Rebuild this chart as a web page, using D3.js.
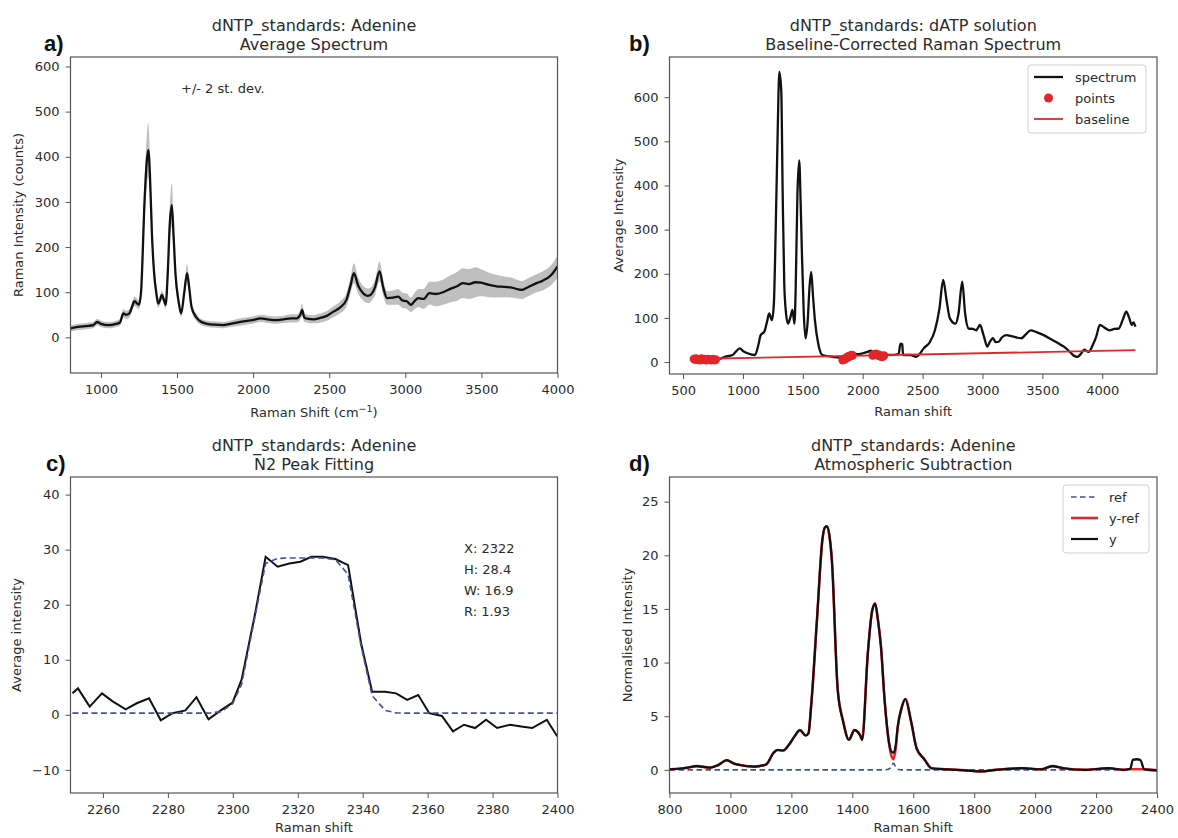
<!DOCTYPE html>
<html><head><meta charset="utf-8">
<script src="https://cdn.jsdelivr.net/npm/d3@7"></script>
<style>body{margin:0;background:#fff} svg text{font-family:"DejaVu Sans",sans-serif}</style>
</head><body><svg id="c" width="1178" height="838"></svg>
<script>
// ---------- Panel a: average spectrum ----------
const aShift = [800,850,900,950,975,1000,1050,1100,1125,1147,1165,1184,1205,1220,1235,1249,1263,1287,1300,1311,1322,1335,1350,1364,1376,1388,1400,1412,1425,1440,1452,1466,1478,1490,1510,1527,1547,1566,1580,1595,1625,1655,1700,1750,1801,1850,1900,1950,1995,2050,2092,2150,2200,2250,2286,2310,2322,2335,2347,2400,2431,2480,2528,2570,2613,2640,2662,2690,2722,2750,2771,2800,2831,2855,2880,2920,2953,2980,3010,3037,3060,3086,3120,3159,3200,3256,3300,3340,3377,3420,3460,3498,3550,3600,3650,3700,3765,3800,3862,3900,3959,4000];
const aMean = [20,23,25,27,34,30,27,30,33,53,50,52,68,80,76,72,98,305,385,415,360,230,140,98,75,82,94,85,72,150,250,293,220,140,80,53,98,142,110,68,45,35,30,28,27,30,33,36,38,42,40,38,40,42,42,50,61,45,42,40,42,47,57,66,83,115,142,115,98,92,94,110,146,110,87,88,90,82,80,72,80,87,85,98,96,101,108,113,120,118,122,121,116,113,112,110,105,110,120,125,138,157];
const aSd2 = [7,7,7,7,7,7,7,7,8,9,9,9,10,10,10,10,15,45,55,60,50,30,18,12,10,10,10,10,10,20,35,48,30,18,10,8,12,20,14,9,8,7,7,7,7,7,8,8,8,8,8,8,8,9,9,11,14,10,9,9,10,11,12,13,15,18,22,18,16,16,16,17,22,18,15,16,17,17,17,16,18,20,22,25,27,28,30,32,33,33,33,30,27,25,23,22,20,20,20,21,22,25];
const aXTicks = [1000,1500,2000,2500,3000,3500,4000];
const aYTicks = [0,100,200,300,400,500,600];

// ---------- Panel b: baseline-corrected spectrum ----------
const bShift = [570,662,757,788,850,913,975,1000,1038,1101,1130,1148,1179,1200,1219,1242,1258,1273,1290,1304,1320,1332,1345,1360,1376,1395,1414,1430,1440,1455,1470,1482,1492,1508,1523,1540,1556,1570,1585,1601,1630,1664,1750,1852,1880,1914,1950,2000,2040,2070,2102,2150,2228,2300,2315,2330,2337,2400,2447,2480,2509,2560,2603,2640,2672,2700,2728,2775,2800,2831,2855,2885,2920,2947,2979,3010,3041,3060,3088,3110,3135,3160,3198,3250,3323,3360,3402,3450,3511,3570,3636,3680,3730,3760,3792,3820,3850,3886,3920,3949,3980,4020,4059,4100,4137,4170,4200,4225,4246,4260,4277];
const bInt = [8,6,6,6,12,16,31,25,20,16,40,61,69,90,110,95,130,291,520,657,615,380,178,110,87,100,118,87,160,380,457,360,253,110,54,90,170,204,150,95,40,16,12,8,5,20,18,20,23,26,16,18,16,18,42,40,16,16,12,20,31,45,72,120,186,140,99,87,110,182,110,76,75,72,84,60,35,45,54,45,46,55,61,58,54,62,72,68,61,52,42,35,23,15,12,18,28,23,38,57,84,78,72,75,76,95,114,100,84,90,80];
const bPointShift = [590,598,606,614,622,630,638,646,654,662,670,678,686,694,702,710,718,726,734,742,750,758,766,774,
  1832,1838,1844,1850,1856,1862,1868,1874,1880,1886,1892,1898,1904,1910,1916,
  2082,2088,2094,2100,2106,2112,2118,2124,2130,2136,2142,2148,2154,2160,2166,2172,2178];
const bPointInt = [7,6,8,5,7,6,4,6,8,5,6,7,5,4,6,7,5,6,4,5,7,5,4,6,
  4,6,5,8,7,10,9,12,11,14,13,15,14,16,15,
  15,17,16,18,17,19,16,17,15,14,16,13,12,14,12,13,15];
const bBaseShift = [570,4277];
const bBaseInt = [7,27];
const bXTicks = [500,1000,1500,2000,2500,3000,3500,4000];
const bYTicks = [0,100,200,300,400,500,600];

// ---------- Panel c: N2 peak fitting ----------
const cShift = [2250.6,2252.3,2255.9,2259.7,2263.1,2267.0,2270.4,2274.2,2277.8,2281.4,2285.4,2288.8,2292.5,2296.5,2299.9,2302.7,2306.7,2310.1,2313.8,2317.4,2320.8,2324.2,2327.6,2331.6,2335.5,2339.5,2342.9,2346.9,2350.3,2353.7,2357.1,2360.5,2364.4,2367.8,2371.2,2374.6,2378.0,2381.4,2385.4,2388.8,2392.2,2396.7,2399.9];
const cInt = [3.9,4.8,1.5,3.9,2.4,1.0,2.1,3.0,-1.0,0.3,0.8,3.2,-0.8,0.9,2.2,6.4,17.9,28.7,26.9,27.5,27.8,28.7,28.7,28.3,27.2,13.0,4.2,4.2,3.9,2.7,3.6,0.3,-0.2,-3.0,-1.8,-2.4,-0.9,-2.4,-1.8,-2.1,-2.4,-0.9,-3.9];
const cFit = [0.3,0.3,0.3,0.3,0.3,0.3,0.3,0.3,0.3,0.3,0.3,0.3,0.3,0.6,2.0,5.5,17.5,27.5,28.4,28.5,28.5,28.5,28.5,28.2,25.5,12.5,3.5,0.8,0.35,0.3,0.3,0.3,0.3,0.3,0.3,0.3,0.3,0.3,0.3,0.3,0.3,0.3,0.3];
const cStats = ["X: 2322","H: 28.4","W: 16.9","R: 1.93"];
const cXTicks = [2260,2280,2300,2320,2340,2360,2380,2400];
const cYTicks = [-10,0,10,20,30,40];

// ---------- Panel d: atmospheric subtraction ----------
const dShift = [800,830,858,889,932,960,988,1010,1031,1080,1117,1142,1154,1173,1191,1210,1228,1247,1256,1265,1284,1302,1310,1317,1325,1333,1352,1370,1389,1407,1426,1432,1451,1465,1475,1484,1494,1506,1522,1528,1535,1542,1549,1562,1574,1593,1611,1636,1660,1710,1772,1821,1870,1957,2019,2056,2093,2167,2241,2290,2312,2321,2334,2346,2358,2400];
const dY = [0.05,0.1,0.2,0.35,0.2,0.45,0.9,0.6,0.45,0.3,0.5,1.6,1.85,1.8,2.3,3.1,3.7,3.2,3.4,6.0,14.0,21.5,22.6,22.7,21.8,19.5,7.5,4.5,2.8,3.7,3.2,2.8,10.9,14.8,15.5,14.0,11.5,6.5,2.3,1.7,1.6,2.2,4.0,5.8,6.6,4.5,2.0,1.0,0.15,0.05,-0.05,-0.15,0,0.15,0.05,0.35,0.15,0,0.15,0,0.1,0.95,1.0,0.9,0.05,-0.05];
const dRef = [0,0,0,0,0,0,0,0,0,0,0,0,0,0,0,0,0,0,0,0,0,0,0,0,0,0,0,0,0,0,0,0,0,0,0,0,0,0,0.1,0.35,0.6,0.3,0.05,0,0,0,0,0,0,0,0,0,0,0,0,0,0,0,0,0,0.05,0.9,0.95,0.85,0,0];
const dYRef = [0.05,0.1,0.2,0.35,0.2,0.45,0.9,0.6,0.45,0.3,0.5,1.6,1.85,1.8,2.3,3.1,3.7,3.2,3.4,6.0,14.0,21.5,22.6,22.7,21.8,19.5,7.5,4.5,2.8,3.7,3.2,2.8,10.9,14.8,15.5,14.0,11.5,6.5,2.2,1.35,1.0,1.9,3.95,5.8,6.6,4.5,2.0,1.0,0.15,0.05,-0.05,-0.15,0,0.15,0.05,0.35,0.15,0,0.15,0,0.05,0.05,0.05,0.05,0.05,-0.05];
const dXTicks = [800,1000,1200,1400,1600,1800,2000,2200,2400];
const dYTicks = [0,5,10,15,20,25];

// ---------- drawing ----------
const svg = d3.select("#c");
const TXT = "#2b2b2b", SPINE = "#555", RED = "#e3262b", NAVY = "#44509a";
const fmt = d => d < 0 ? "\u2212" + Math.abs(d) : String(d);

function panel(o) {
  const x = d3.scaleLinear().domain(o.xd).range([o.l, o.r]);
  const y = d3.scaleLinear().domain(o.yd).range([o.b, o.t]);
  const id = "clip" + o.key;
  svg.append("clipPath").attr("id", id).append("rect")
    .attr("x", o.l).attr("y", o.t).attr("width", o.r - o.l).attr("height", o.b - o.t);
  const plot = svg.append("g").attr("clip-path", `url(#${id})`);
  const xa = svg.append("g").attr("transform", `translate(0,${o.b})`)
    .call(d3.axisBottom(x).tickValues(o.xt).tickSize(5).tickPadding(7).tickFormat(fmt));
  const ya = svg.append("g").attr("transform", `translate(${o.l},0)`)
    .call(d3.axisLeft(y).tickValues(o.yt).tickSize(5).tickPadding(6).tickFormat(fmt));
  [xa, ya].forEach(a => {
    a.select(".domain").remove();
    a.selectAll("line").attr("stroke", SPINE).attr("stroke-width", 1);
    a.selectAll("text").attr("fill", TXT).style("font-size", "13px").style("font-family", "DejaVu Sans");
  });
  svg.append("rect").attr("x", o.l).attr("y", o.t).attr("width", o.r - o.l).attr("height", o.b - o.t)
    .attr("fill", "none").attr("stroke", SPINE).attr("stroke-width", 1.2);
  const cx = (o.l + o.r) / 2;
  svg.append("text").attr("x", cx).attr("y", o.t - 26.5).attr("text-anchor", "middle")
    .attr("fill", TXT).style("font-size", "16px").text(o.title[0]);
  svg.append("text").attr("x", cx).attr("y", o.t - 7.5).attr("text-anchor", "middle")
    .attr("fill", TXT).style("font-size", "16px").text(o.title[1]);
  svg.append("text").attr("x", o.lx).attr("y", o.t - 6).attr("fill", "#111")
    .style("font-family", "Liberation Sans, Arial, sans-serif").style("font-weight", "bold")
    .style("font-size", "22px").text(o.letter);
  const xl = svg.append("text").attr("x", cx).attr("y", o.b + o.xly).attr("text-anchor", "middle")
    .attr("fill", TXT).style("font-size", "13px").text(o.xlab);
  if (o.xsup) {
    xl.append("tspan").attr("dy", -5).style("font-size", "9.5px").text(o.xsup);
    xl.append("tspan").attr("dy", 5).text(")");
  }
  svg.append("text").attr("transform", `translate(${o.ylx},${(o.t + o.b) / 2}) rotate(-90)`)
    .attr("text-anchor", "middle").attr("fill", TXT).style("font-size", "13px").text(o.ylab);
  return { x, y, plot };
}

// Panel a
{
  const P = panel({ key: "a", l: 70.5, r: 557.5, t: 57, b: 373, xd: [800, 4000], yd: [-79, 621],
    xt: aXTicks, yt: aYTicks, title: ["dNTP_standards: Adenine", "Average Spectrum"], letter: "a)", lx: 44,
    xlab: "Raman Shift (cm", xsup: "\u22121", xly: 44, ylab: "Raman Intensity (counts)", ylx: 23 });
  const idx = d3.range(aShift.length);
  P.plot.append("path").datum(idx).attr("fill", "#bfbfbf")
    .attr("d", d3.area().x(i => P.x(aShift[i])).y0(i => P.y(aMean[i] - aSd2[i])).y1(i => P.y(aMean[i] + aSd2[i])).curve(d3.curveMonotoneX));
  P.plot.append("path").datum(idx).attr("fill", "none").attr("stroke", "#111").attr("stroke-width", 2.3)
    .attr("d", d3.line().x(i => P.x(aShift[i])).y(i => P.y(aMean[i])).curve(d3.curveMonotoneX));
  svg.append("text").attr("x", 181).attr("y", 92.5).attr("fill", TXT).style("font-size", "13px").text("+/- 2 st. dev.");
}

// Panel b
{
  const P = panel({ key: "b", l: 669.5, r: 1157, t: 57, b: 374, xd: [387, 4457], yd: [-27, 691],
    xt: bXTicks, yt: bYTicks, title: ["dNTP_standards: dATP solution", "Baseline-Corrected Raman Spectrum"], letter: "b)", lx: 629,
    xlab: "Raman shift", xly: 42, ylab: "Average Intensity", ylx: 622.5 });
  const idx = d3.range(bShift.length);
  P.plot.append("path").datum(idx).attr("fill", "none").attr("stroke", "#111").attr("stroke-width", 2.3)
    .attr("d", d3.line().x(i => P.x(bShift[i])).y(i => P.y(bInt[i])).curve(d3.curveMonotoneX));
  P.plot.selectAll("circle").data(d3.range(bPointShift.length)).join("circle")
    .attr("cx", i => P.x(bPointShift[i])).attr("cy", i => P.y(bPointInt[i])).attr("r", 4.2).attr("fill", RED);
  P.plot.append("path").datum(d3.range(bBaseShift.length)).attr("fill", "none").attr("stroke", RED).attr("stroke-width", 1.8)
    .attr("d", d3.line().x(i => P.x(bBaseShift[i])).y(i => P.y(bBaseInt[i])));
  // legend
  const L = svg.append("g");
  L.append("rect").attr("x", 1028).attr("y", 65).attr("width", 118).attr("height", 68).attr("rx", 3)
    .attr("fill", "#fff").attr("stroke", "#d0d0d0");
  L.append("line").attr("x1", 1034).attr("x2", 1063).attr("y1", 77).attr("y2", 77).attr("stroke", "#111").attr("stroke-width", 2.3);
  L.append("circle").attr("cx", 1048.5).attr("cy", 98).attr("r", 4.5).attr("fill", RED);
  L.append("line").attr("x1", 1034).attr("x2", 1063).attr("y1", 119).attr("y2", 119).attr("stroke", RED).attr("stroke-width", 1.8);
  ["spectrum", "points", "baseline"].forEach((t, k) =>
    L.append("text").attr("x", 1075).attr("y", 81.5 + 21 * k).attr("fill", TXT).style("font-size", "13px").text(t));
}

// Panel c
{
  const P = panel({ key: "c", l: 70.5, r: 557.5, t: 477, b: 793, xd: [2250, 2400], yd: [-14.2, 43.2],
    xt: cXTicks, yt: cYTicks, title: ["dNTP_standards: Adenine", "N2 Peak Fitting"], letter: "c)", lx: 46,
    xlab: "Raman shift", xly: 39, ylab: "Average intensity", ylx: 21 });
  const idx = d3.range(cShift.length);
  P.plot.append("path").datum(idx).attr("fill", "none").attr("stroke", "#111").attr("stroke-width", 2)
    .attr("d", d3.line().x(i => P.x(cShift[i])).y(i => P.y(cInt[i])));
  P.plot.append("path").datum(idx).attr("fill", "none").attr("stroke", NAVY).attr("stroke-width", 1.6)
    .attr("stroke-dasharray", "6,3.5")
    .attr("d", d3.line().x(i => P.x(cShift[i])).y(i => P.y(cFit[i])));
  cStats.forEach((t, k) => svg.append("text").attr("x", 464).attr("y", 552.5 + 21.2 * k)
    .attr("fill", TXT).style("font-size", "13px").text(t));
}

// Panel d
{
  const P = panel({ key: "d", l: 669.5, r: 1157, t: 477, b: 793, xd: [800, 2400], yd: [-2.16, 27.3],
    xt: dXTicks, yt: dYTicks, title: ["dNTP_standards: Adenine", "Atmospheric Subtraction"], letter: "d)", lx: 629,
    xlab: "Raman Shift", xly: 39, ylab: "Normalised Intensity", ylx: 632 });
  const idx = d3.range(dShift.length);
  const ln = arr => d3.line().x(i => P.x(dShift[i])).y(i => P.y(arr[i])).curve(d3.curveMonotoneX);
  P.plot.append("path").datum(idx).attr("fill", "none").attr("stroke", NAVY).attr("stroke-width", 1.6)
    .attr("stroke-dasharray", "5.5,3.5").attr("d", ln(dRef));
  P.plot.append("path").datum(idx).attr("fill", "none").attr("stroke", RED).attr("stroke-width", 2.6).attr("d", ln(dYRef));
  P.plot.append("path").datum(idx).attr("fill", "none").attr("stroke", "#111").attr("stroke-width", 2.2).attr("d", ln(dY));
  const L = svg.append("g");
  L.append("rect").attr("x", 1063).attr("y", 485).attr("width", 86).attr("height", 68).attr("rx", 3)
    .attr("fill", "#fff").attr("stroke", "#d0d0d0");
  L.append("line").attr("x1", 1071).attr("x2", 1098).attr("y1", 497).attr("y2", 497).attr("stroke", NAVY).attr("stroke-width", 1.6).attr("stroke-dasharray", "5.5,3.5");
  L.append("line").attr("x1", 1071).attr("x2", 1098).attr("y1", 518).attr("y2", 518).attr("stroke", RED).attr("stroke-width", 2.6);
  L.append("line").attr("x1", 1071).attr("x2", 1098).attr("y1", 539).attr("y2", 539).attr("stroke", "#111").attr("stroke-width", 2.2);
  ["ref", "y-ref", "y"].forEach((t, k) =>
    L.append("text").attr("x", 1109).attr("y", 501.5 + 21 * k).attr("fill", TXT).style("font-size", "13px").text(t));
}
</script></body></html>
